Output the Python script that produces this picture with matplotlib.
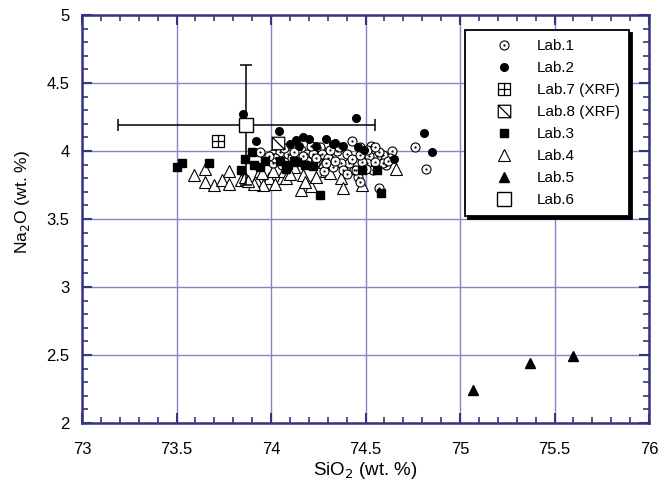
import matplotlib
matplotlib.use("Agg")
import matplotlib.pyplot as plt
from matplotlib.path import Path
from matplotlib.legend_handler import HandlerTuple
from matplotlib.ticker import MultipleLocator, FormatStrFormatter

plt.rcParams['font.family'] = ['Liberation Sans', 'DejaVu Sans']

# Lab.1 (open circles with dot)
lab1_x = [74.43, 74.53, 74.64, 74.63, 74.61, 74.59, 74.56, 74.52, 74.51, 74.46, 74.47, 74.44,
          74.40, 74.41, 74.35, 74.26, 74.26, 74.28, 74.37, 74.38, 74.45, 74.54, 74.59, 74.48,
          74.51, 73.94, 74.01, 74.05, 74.09, 74.14, 74.16, 74.19, 74.22, 74.26, 74.27, 74.01,
          74.06, 74.19, 74.23, 74.02, 74.11, 74.76, 74.82, 74.57, 74.30, 74.33, 74.36, 74.47,
          74.55, 74.62, 74.31, 74.21, 74.12, 74.07, 73.99, 74.40, 74.24, 74.34, 74.50, 74.43,
          74.47, 74.57, 74.29, 74.17, 74.55]
lab1_y = [4.07, 4.04, 4.00, 3.95, 3.90, 3.97, 3.96, 3.96, 3.91, 3.81, 3.77, 3.86,
          3.98, 3.91, 4.00, 4.02, 3.97, 3.85, 3.91, 3.86, 3.86, 3.86, 3.91, 3.92,
          4.01, 3.99, 3.98, 3.99, 3.98, 4.03, 4.01, 3.98, 3.98, 4.03, 3.98, 3.91,
          3.90, 3.93, 3.91, 3.95, 3.95, 4.03, 3.87, 3.73, 3.95, 3.88, 4.03, 3.97,
          3.92, 3.93, 4.01, 4.04, 3.99, 4.02, 3.96, 3.83, 3.95, 3.93, 3.87, 3.94,
          4.03, 3.99, 3.91, 3.96, 4.03]

# Lab.2 (filled circles)
lab2_x = [73.85, 74.04, 73.92, 74.13, 74.17, 74.20, 74.10, 74.29, 74.45, 74.33, 74.38, 74.46,
          74.49, 74.65, 74.81, 74.85, 74.34, 74.24, 74.15]
lab2_y = [4.27, 4.15, 4.07, 4.08, 4.10, 4.09, 4.05, 4.09, 4.24, 4.05, 4.04, 4.03,
          4.01, 3.94, 4.13, 3.99, 4.06, 4.04, 4.04]

# Lab.3 (filled squares)
lab3_x = [73.50, 73.53, 73.67, 73.90, 73.86, 73.84, 73.91, 73.94, 73.97, 74.08, 74.26, 74.48,
          74.56, 74.58, 74.12, 74.09, 74.14, 74.18, 74.22, 74.05]
lab3_y = [3.88, 3.91, 3.91, 3.99, 3.94, 3.86, 3.90, 3.88, 3.93, 3.87, 3.68, 3.86,
          3.86, 3.69, 3.93, 3.90, 3.92, 3.90, 3.89, 3.93]

# Lab.4 (open triangles)
lab4_x = [73.59, 73.65, 73.65, 73.70, 73.74, 73.78, 73.78, 73.84, 73.86, 73.92, 73.94, 73.99,
          74.01, 74.06, 74.07, 74.12, 74.16, 74.21, 74.17, 74.24, 74.28, 73.95, 73.96, 73.91,
          74.02, 74.08, 74.18, 74.29, 74.31, 74.37, 74.38, 74.48, 74.66, 74.32, 74.10, 73.88]
lab4_y = [3.82, 3.87, 3.77, 3.75, 3.79, 3.85, 3.76, 3.79, 3.81, 3.79, 3.85, 3.80,
          3.85, 3.80, 3.85, 3.88, 3.71, 3.74, 3.82, 3.81, 3.92, 3.84, 3.75, 3.76,
          3.76, 3.80, 3.77, 3.85, 3.84, 3.80, 3.73, 3.75, 3.87, 3.93, 3.83, 3.78]

# Lab.5 (filled triangles)
lab5_x = [75.07, 75.37, 75.60]
lab5_y = [2.24, 2.44, 2.49]

# Lab.6 (big open square with error bars)
lab6_x = [73.87]
lab6_y = [4.19]
lab6_xerr = [0.68]
lab6_yerr = [0.44]

# XRF
lab7_x = [73.72]
lab7_y = [4.07]
lab8_x = [74.035]
lab8_y = [4.06]

# custom markers
M, L = Path.MOVETO, Path.LINETO
plus_box = Path([(-1, -1), (1, -1), (1, 1), (-1, 1), (-1, -1), (0, -1), (0, 1), (-1, 0), (1, 0)],
                [M, L, L, L, L, M, L, M, L])
diag_box = Path([(-1, -1), (1, -1), (1, 1), (-1, 1), (-1, -1), (-1, 1), (1, -1)],
                [M, L, L, L, L, M, L])

spine_col = '#34347f'
grid_col = '#8a82c6'

fig = plt.figure(figsize=(6.63, 4.87), dpi=100)
ax = fig.add_axes([0.1237, 0.1314, 0.8553, 0.8378])

ax.set_xlim(73, 76)
ax.set_ylim(2, 5)
ax.xaxis.set_major_locator(MultipleLocator(0.5))
ax.xaxis.set_minor_locator(MultipleLocator(0.1))
ax.yaxis.set_major_locator(MultipleLocator(0.5))
ax.yaxis.set_minor_locator(MultipleLocator(0.1))
ax.xaxis.set_major_formatter(FormatStrFormatter('%g'))
ax.yaxis.set_major_formatter(FormatStrFormatter('%g'))
ax.grid(True, which='major', color=grid_col, linewidth=1.0)
ax.set_axisbelow(True)
for s in ax.spines.values():
    s.set_color(spine_col)
    s.set_linewidth(1.8)
ax.tick_params(which='both', direction='in', top=True, right=True, color=spine_col,
               labelsize=12)
ax.tick_params(axis='x', which='major', pad=14)
ax.tick_params(axis='y', which='major', pad=9)
ax.tick_params(which='major', length=7, width=1.5)
ax.tick_params(which='minor', length=4, width=1.2)

h4, = ax.plot(lab4_x, lab4_y, ls='none', marker='^', ms=8, mfc='white', mec='black', mew=0.8, zorder=3)
h1a, = ax.plot(lab1_x, lab1_y, ls='none', marker='o', ms=6.5, mfc='white', mec='black', mew=0.8, zorder=4)
h1b, = ax.plot(lab1_x, lab1_y, ls='none', marker='o', ms=1.6, mfc='black', mec='black', mew=0, zorder=4.5)
h2, = ax.plot(lab2_x, lab2_y, ls='none', marker='o', ms=5.5, mfc='black', mec='black', zorder=5)
h3, = ax.plot(lab3_x, lab3_y, ls='none', marker='s', ms=5.5, mfc='black', mec='black', zorder=5)
h5, = ax.plot(lab5_x, lab5_y, ls='none', marker='^', ms=7.5, mfc='black', mec='black', zorder=5)
h7, = ax.plot(lab7_x, lab7_y, ls='none', marker=plus_box, ms=9, mfc='none', mec='black', mew=0.9, zorder=6)
h8, = ax.plot(lab8_x, lab8_y, ls='none', marker=diag_box, ms=9, mfc='white', mec='black', mew=0.9, zorder=6)
ax.errorbar(lab6_x, lab6_y, xerr=lab6_xerr, yerr=lab6_yerr, fmt='none', ecolor='black',
            elinewidth=1.1, capsize=4, capthick=1.1, zorder=6)
h6, = ax.plot(lab6_x, lab6_y, ls='none', marker='s', ms=10, mfc='white', mec='black', mew=1.0, zorder=7)

ax.set_xlabel('SiO$_2$ (wt. %)', fontsize=13.5, labelpad=2)
ax.set_ylabel('Na$_2$O (wt. %)', fontsize=12.5, labelpad=10)
ax.yaxis.label.set_y(0.542)

leg = ax.legend([(h1a, h1b), h2, h7, h8, h3, h4, h5, h6],
                ['Lab.1', 'Lab.2', 'Lab.7 (XRF)', 'Lab.8 (XRF)', 'Lab.3', 'Lab.4', 'Lab.5', 'Lab.6'],
                handler_map={tuple: HandlerTuple(ndivide=1, pad=0)},
                loc='upper right', bbox_to_anchor=(0.965, 0.963), borderaxespad=0,
                fontsize=11, frameon=True, fancybox=False,
                shadow={'color': 'black', 'alpha': 1},
                edgecolor='black', framealpha=1, labelspacing=0.52, handlelength=3.85,
                handletextpad=0.25, borderpad=0.6)
leg.get_frame().set_linewidth(1.3)
leg.set_zorder(10)

fig.savefig('out.png', dpi=100)
